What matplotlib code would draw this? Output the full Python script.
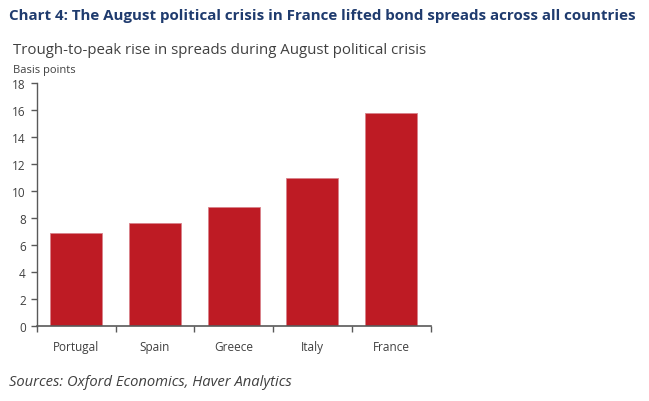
import numpy as np
import matplotlib.pyplot as plt

plt.rcParams['font.family'] = ['Open Sans', 'DejaVu Sans']

# data
countries = ["Portugal", "Spain", "Greece", "Italy", "France"]
spread_rise = [6.9, 7.6, 8.8, 11.0, 15.75]
y_ticks = [0, 2, 4, 6, 8, 10, 12, 14, 16, 18]

title = "Chart 4: The August political crisis in France lifted bond spreads across all countries"
subtitle = "Trough-to-peak rise in spreads during August political crisis"
unit = "Basis points"
source = "Sources: Oxford Economics, Haver Analytics"

bar_col = "#BE1B24"
axis_col = "#595959"
text_col = "#404040"

fig = plt.figure(figsize=(6.49, 4.02), dpi=100)
ax = fig.add_axes([37/649, 1-327/402, (430.5-37)/649, (327-84)/402])

xs = np.arange(len(countries))
ax.bar(xs, spread_rise, width=0.66, color=bar_col, edgecolor="#D9828A", linewidth=0.6, zorder=2)

ax.set_xlim(-0.5, len(countries)-0.5)
ax.set_ylim(0, 18)
ax.set_yticks(y_ticks)
ax.set_yticklabels([str(t) for t in y_ticks], fontsize=8.5, color=text_col)

# category labels centred, tick marks on the boundaries
ax.set_xticks(np.arange(-0.5, len(countries)), minor=False)
ax.set_xticklabels([])
ax.set_xticks(xs, minor=True)
ax.set_xticklabels(countries, minor=True, fontsize=8.5, color=text_col)
ax.tick_params(axis="x", which="minor", length=0, pad=10)
ax.tick_params(axis="x", which="major", length=4, direction="out", color=axis_col, width=1)
ax.tick_params(axis="y", length=4, direction="out", color=axis_col, width=1, pad=4)

for s in ["top", "right"]:
    ax.spines[s].set_visible(False)
ax.spines["left"].set_color(axis_col)
ax.spines["bottom"].set_color(axis_col)
ax.spines["left"].set_linewidth(1)
ax.spines["bottom"].set_linewidth(1.2)

fig.text(9/649, 1-16/402, title, fontsize=10.9, fontweight="bold", color="#1F3B6E", va="center")
fig.text(13/649, 1-51/402, subtitle, fontsize=10.8, color=text_col, va="center")
fig.text(13/649, 1-70/402, unit, fontsize=8, color=text_col, va="center")
fig.text(9/649, 1-383/402, source, fontsize=10.6, style="italic", color=text_col, va="center")

fig.savefig("out.png", dpi=100)
